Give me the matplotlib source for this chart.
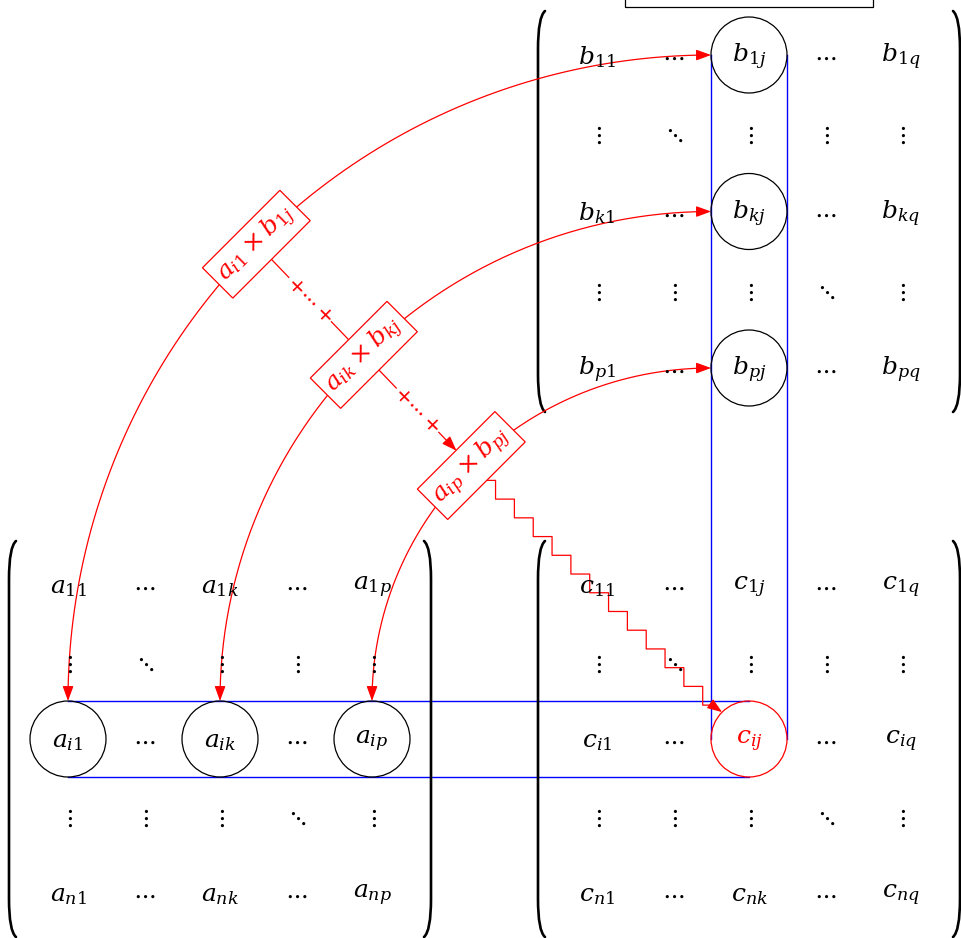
import matplotlib.pyplot as plt
import numpy as np
from matplotlib.patches import Circle, Rectangle, FancyArrowPatch
from matplotlib.path import Path

plt.rcParams['mathtext.fontset'] = 'dejavuserif'

# matrix entries, row by row
A = [[r"a_{11}", r"\cdots", r"a_{1k}", r"\cdots", r"a_{1p}"],
     [r"\vdots", r"\ddots", r"\vdots", r"\vdots", r"\vdots"],
     [r"a_{i1}", r"\cdots", r"a_{ik}", r"\cdots", r"a_{ip}"],
     [r"\vdots", r"\vdots", r"\vdots", r"\ddots", r"\vdots"],
     [r"a_{n1}", r"\cdots", r"a_{nk}", r"\cdots", r"a_{np}"]]
B = [[r"b_{11}", r"\cdots", r"b_{1j}", r"\cdots", r"b_{1q}"],
     [r"\vdots", r"\ddots", r"\vdots", r"\vdots", r"\vdots"],
     [r"b_{k1}", r"\cdots", r"b_{kj}", r"\cdots", r"b_{kq}"],
     [r"\vdots", r"\vdots", r"\vdots", r"\ddots", r"\vdots"],
     [r"b_{p1}", r"\cdots", r"b_{pj}", r"\cdots", r"b_{pq}"]]
C = [[r"c_{11}", r"\cdots", r"c_{1j}", r"\cdots", r"c_{1q}"],
     [r"\vdots", r"\ddots", r"\vdots", r"\vdots", r"\vdots"],
     [r"c_{i1}", r"\cdots", r"c_{ij}", r"\cdots", r"c_{iq}"],
     [r"\vdots", r"\vdots", r"\vdots", r"\ddots", r"\vdots"],
     [r"c_{n1}", r"\cdots", r"c_{nk}", r"\cdots", r"c_{nq}"]]

products = [r"a_{i1}\times b_{1j}", r"a_{ik}\times b_{kj}", r"a_{ip}\times b_{pj}"]
k_index = [0, 2, 4]      # column of A / row of B used by each product
i_row, j_col = 2, 2      # highlighted row of A and column of B
plus_dots = r"+\cdots+"

# layout (pixels, y downwards)
ax_cols = 68 + 76 * np.arange(5)
c_cols = 597 + 76 * np.arange(5)
ac_rows = 585 + 77 * np.arange(5)
b_rows = 55 + 78.25 * np.arange(5)
R = 38
FS = 18
BLUE = "#0000ff"

fig = plt.figure(figsize=(9.62, 9.38), dpi=100)
ax = fig.add_axes([0, 0, 1, 1])
ax.set_xlim(0, 962)
ax.set_ylim(938, 0)
ax.axis("off")


def bracket(x, y0, y1, side):
    # side=-1 left parenthesis, +1 right parenthesis
    c = 7
    verts = [(x - side * c, y0), (x, y0 + 6), (x, y0 + 38),
             (x, y1 - 38), (x, y1 - 6), (x - side * c, y1)]
    codes = [Path.MOVETO, Path.CURVE3, Path.CURVE3,
             Path.LINETO, Path.CURVE3, Path.CURVE3]
    ax.add_patch(FancyArrowPatch(path=Path(verts, codes), arrowstyle="-",
                                 lw=1.9, color="black", zorder=3))


def draw_matrix(entries, xs, ys, colors=None):
    for r, row in enumerate(entries):
        for c, s in enumerate(row):
            col = "black"
            if colors and (r, c) in colors:
                col = colors[(r, c)]
            ax.text(xs[c], ys[r] + 2, "$" + s + "$", fontsize=FS, color=col,
                    ha="center", va="center", zorder=6)
    m = 59
    bracket(xs[0] - m, ys[0] - 44, ys[-1] + 44, -1)
    bracket(xs[-1] + m, ys[0] - 44, ys[-1] + 44, 1)


draw_matrix(A, ax_cols, ac_rows)
draw_matrix(B, c_cols, b_rows)
draw_matrix(C, c_cols, ac_rows, colors={(i_row, j_col): "red"})

# box above B
ax.add_patch(Rectangle((c_cols[j_col] - 124, -40), 248, 47, fill=False,
                       ec="black", lw=0.9, zorder=2))

# circles
yi = ac_rows[i_row]
xj = c_cols[j_col]
for k in k_index:
    ax.add_patch(Circle((ax_cols[k], yi), R, fill=False, ec="black", lw=0.9, zorder=4))
    ax.add_patch(Circle((xj, b_rows[k]), R, fill=False, ec="black", lw=0.9, zorder=4))
ax.add_patch(Circle((xj, yi), R, fill=False, ec="red", lw=0.9, zorder=4))

# blue bands for row i of A and column j of B
ax.plot([ax_cols[0], xj], [yi - R, yi - R], color=BLUE, lw=1.0, zorder=2)
ax.plot([ax_cols[0], xj], [yi + R, yi + R], color=BLUE, lw=1.0, zorder=2)
ax.plot([xj - R, xj - R], [b_rows[0], yi], color=BLUE, lw=1.0, zorder=2)
ax.plot([xj + R, xj + R], [b_rows[0], yi], color=BLUE, lw=1.0, zorder=2)

# curved arrows with product labels
cx, cy = xj - R, yi - R
t = np.linspace(0, np.pi / 2, 200)
label_pos = []
for k, txt in zip(k_index, products):
    rx = cx - ax_cols[k]
    ry = cy - b_rows[k]
    verts = np.column_stack([cx - rx * np.cos(t), cy - ry * np.sin(t)])
    ax.add_patch(FancyArrowPatch(path=Path(verts), arrowstyle="<|-|>,head_length=0.6,head_width=0.22",
                                 mutation_scale=15, color="red", lw=0.9, zorder=5))
    lx, ly = cx - rx * np.cos(np.pi / 4), cy - ry * np.sin(np.pi / 4)
    label_pos.append((lx, ly))
    ax.text(lx, ly, "$" + txt + "$", fontsize=FS, color="red", rotation=45,
            rotation_mode="anchor", ha="center", va="center", zorder=8,
            bbox=dict(boxstyle="square,pad=0.25", fc="white", ec="red", lw=0.9))

# "+ ... +" connectors between labels
u = np.array([1, 1]) / np.sqrt(2)
h = 21
for m in range(len(label_pos) - 1):
    p = np.array(label_pos[m]) + h * u
    q = np.array(label_pos[m + 1]) - h * u
    style = "-" if m == 0 else "-|>,head_length=0.6,head_width=0.22"
    ax.add_patch(FancyArrowPatch(p, q, arrowstyle=style, mutation_scale=15,
                                 shrinkA=0, shrinkB=0, color="red", lw=0.9, zorder=5))
    mid = (p + q) / 2
    ax.text(mid[0], mid[1], "$" + plus_dots + "$", fontsize=15, color="red",
            rotation=-45, rotation_mode="anchor", ha="center", va="center", zorder=7,
            bbox=dict(boxstyle="square,pad=0.05", fc="white", ec="none"))

# staircase arrow from last product to c_ij
s = np.array(label_pos[-1]) + h * u
e = np.array([xj - R / np.sqrt(2), yi - R / np.sqrt(2)])
pend = e - np.array([10, 7])
n = 12
dx = (pend[0] - s[0]) / n
dy = (pend[1] - s[1]) / n
pts = [tuple(s)]
x, y = s[0] + dx / 2, s[1]
pts.append((x, y))
for step in range(n):
    y += dy
    pts.append((x, y))
    x += dx if step < n - 1 else dx / 2
    pts.append((x, y))
pts.append(tuple(e))
ax.add_patch(FancyArrowPatch(path=Path(pts), arrowstyle="-|>,head_length=0.6,head_width=0.22",
                             mutation_scale=15, color="red", lw=0.9, zorder=5))

fig.savefig("out.png", dpi=100)
